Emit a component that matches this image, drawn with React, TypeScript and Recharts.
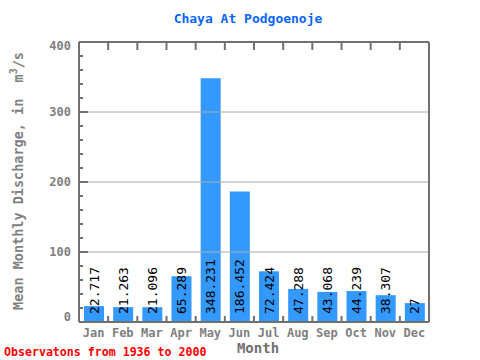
import React from 'react';
import {
  BarChart,
  Bar,
  XAxis,
  YAxis,
  ReferenceLine,
  LabelList,
} from 'recharts';

// Data
const months = ['Jan', 'Feb', 'Mar', 'Apr', 'May', 'Jun', 'Jul', 'Aug', 'Sep', 'Oct', 'Nov', 'Dec'];
const discharge = [22.717, 21.263, 21.096, 65.289, 348.231, 186.452, 72.424, 47.288, 43.068, 44.239, 38.307, 27];
const labels = ['22.717', '21.263', '21.096', '65.289', '348.231', '186.452', '72.424', '47.288', '43.068', '44.239', '38.307', '27'];
const yTicks = [0, 20, 40, 60, 80, 100, 120, 140, 160, 180, 200, 220, 240, 260, 280, 300, 320, 340, 360, 380, 400];
const gridValues = [100, 200, 300];

const data = months.map((m, i) => ({ name: m, value: discharge[i], label: labels[i] }));

const W = 480;
const H = 360;
const PLOT_LEFT = 79;
const PLOT_RIGHT = 429;
const PLOT_TOP = 42;
const PLOT_BOTTOM = 322;
const BAND = (PLOT_RIGHT - PLOT_LEFT) / months.length;

const FRAME = '#707070';
const MONO = '"DejaVu Sans Mono", "Liberation Mono", monospace';

// Left axis: minor/major inward ticks plus labels on hundreds
const LeftTick = ({ y, payload }: any) => {
  const major = payload.value % 100 === 0;
  let dy = 0;
  if (payload.value === 0) dy = -5;
  if (payload.value === 400) dy = 4;
  return (
    <g>
      <line x1={PLOT_LEFT} x2={PLOT_LEFT + (major ? 9 : 4)} y1={y} y2={y} stroke={FRAME} strokeWidth={2} />
      {major && (
        <text
          x={PLOT_LEFT - 8}
          y={y + dy}
          textAnchor="end"
          dominantBaseline="central"
          fontFamily={MONO}
          fontWeight="bold"
          fontSize={12}
          fill="#808080"
        >
          {payload.value}
        </text>
      )}
    </g>
  );
};

const RightTick = ({ y }: any) => (
  <line x1={PLOT_RIGHT} x2={PLOT_RIGHT - 5} y1={y} y2={y} stroke={FRAME} strokeWidth={2} />
);

const BottomTick = ({ x, payload, index }: any) => (
  <g>
    {index > 0 && (
      <line x1={x - BAND / 2} x2={x - BAND / 2} y1={PLOT_BOTTOM} y2={PLOT_BOTTOM - 6} stroke={FRAME} strokeWidth={2} />
    )}
    <text
      x={x}
      y={PLOT_BOTTOM + 11}
      textAnchor="middle"
      dominantBaseline="central"
      fontFamily={MONO}
      fontWeight="bold"
      fontSize={12}
      fill="#808080"
    >
      {payload.value}
    </text>
  </g>
);

const TopTick = ({ x, index }: any) =>
  index > 0 ? (
    <line x1={x - BAND / 2} x2={x - BAND / 2} y1={PLOT_TOP} y2={PLOT_TOP + 8} stroke={FRAME} strokeWidth={2} />
  ) : (
    <g />
  );

// Rotated value label starting at the bar's base
const ValueLabel = ({ x, y, width, height, value }: any) => {
  const cx = x + width / 2;
  const by = y + height - 8;
  return (
    <text
      x={cx}
      y={by}
      transform={`rotate(-90 ${cx} ${by})`}
      textAnchor="start"
      dominantBaseline="central"
      fontFamily={MONO}
      fontSize={13}
      fill="#000"
    >
      {value}
    </text>
  );
};

export default function App() {
  return (
    <div style={{ position: 'absolute', left: 0, top: 0, width: W, height: H, background: '#fff' }}>
      <BarChart
        width={W}
        height={H}
        data={data}
        margin={{ top: PLOT_TOP - 30, right: 0, bottom: 0, left: 0 }}
        barSize={20}
      >
        <text
          x={248}
          y={18}
          textAnchor="middle"
          dominantBaseline="central"
          fontFamily={MONO}
          fontWeight="bold"
          fontSize={13}
          fill="#0a66ff"
        >
          Chaya At Podgoenoje
        </text>
        <text
          x={18}
          y={181}
          transform="rotate(-90 18 181)"
          textAnchor="middle"
          dominantBaseline="central"
          fontFamily={MONO}
          fontWeight="bold"
          fontSize={13.5}
          fill="#808080"
        >
          {'Mean Monthly Discharge, in\u00a0\u00a0m'}
          <tspan dy={-5} fontSize={10}>3</tspan>
          <tspan dy={5}>/s</tspan>
        </text>
        <text
          x={258}
          y={348}
          textAnchor="middle"
          dominantBaseline="central"
          fontFamily={MONO}
          fontWeight="bold"
          fontSize={14}
          fill="#707070"
        >
          Month
        </text>
        <text
          x={4}
          y={352}
          dominantBaseline="central"
          fontFamily={MONO}
          fontWeight="bold"
          fontSize={11.6}
          fill="#ff0000"
        >
          Observatons from 1936 to 2000
        </text>
        <XAxis
          dataKey="name"
          height={H - PLOT_BOTTOM}
          axisLine={{ stroke: FRAME, strokeWidth: 2 }}
          tickLine={false}
          tick={<BottomTick />}
          interval={0}
        />
        <XAxis
          xAxisId="top"
          orientation="top"
          dataKey="name"
          height={30}
          axisLine={{ stroke: FRAME, strokeWidth: 2 }}
          tickLine={false}
          tick={<TopTick />}
          interval={0}
        />
        <YAxis
          width={PLOT_LEFT}
          domain={[0, 400]}
          ticks={yTicks}
          interval={0}
          axisLine={{ stroke: FRAME, strokeWidth: 2 }}
          tickLine={false}
          tick={<LeftTick />}
        />
        <YAxis
          yAxisId="r"
          orientation="right"
          width={W - PLOT_RIGHT}
          domain={[0, 400]}
          ticks={yTicks}
          interval={0}
          axisLine={{ stroke: FRAME, strokeWidth: 2 }}
          tickLine={false}
          tick={<RightTick />}
        />
        {gridValues.map((v) => (
          <ReferenceLine key={v} y={v} stroke="#aaaaaa" strokeWidth={1} />
        ))}
        <Bar dataKey="value" fill="#3399ff" isAnimationActive={false}>
          <LabelList dataKey="label" content={<ValueLabel />} />
        </Bar>
      </BarChart>
    </div>
  );
}
